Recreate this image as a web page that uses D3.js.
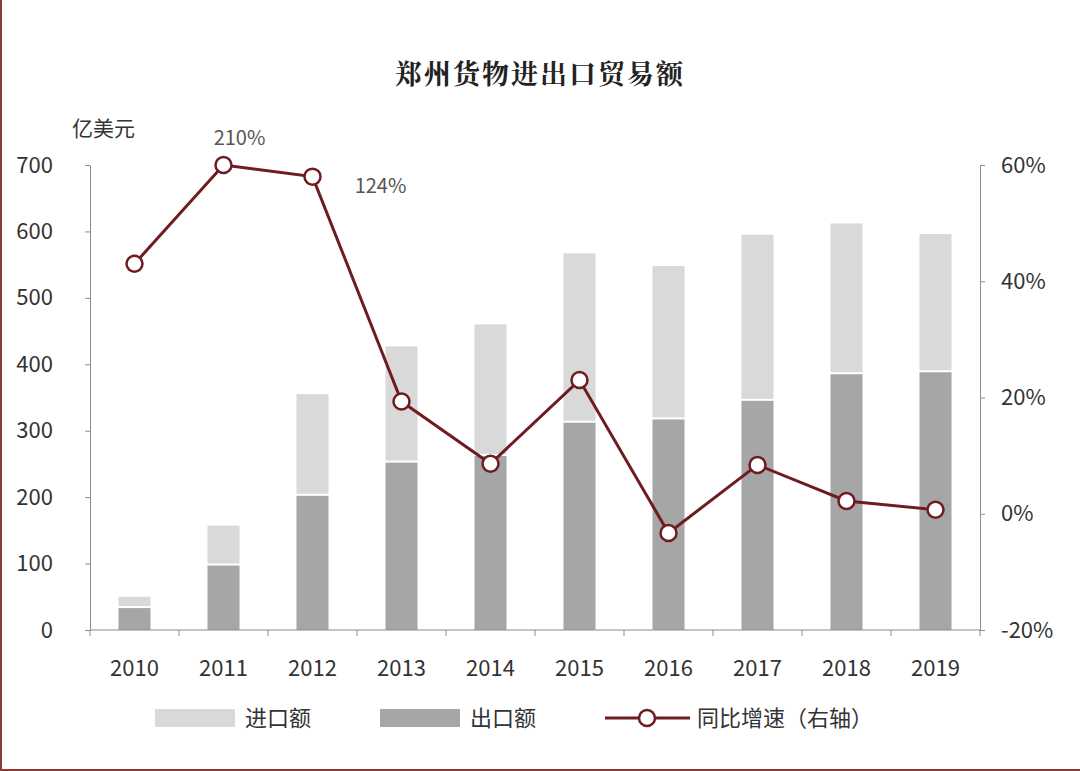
<!DOCTYPE html>
<html><head><meta charset="utf-8">
<script src="https://cdn.jsdelivr.net/npm/d3@7/dist/d3.min.js"></script>
<style>body{margin:0;background:#fff}svg{display:block}</style>
</head><body><div id="chart"></div>
<script>
const years = ["2010","2011","2012","2013","2014","2015","2016","2017","2018","2019"];
const exports = [33, 97, 202, 252, 262, 312, 317, 345, 385, 388];
const imports = [17, 60, 153, 175, 198, 255, 231, 250, 227, 208];
const growth = [43, 210, 124, 19.3, 8.6, 23, -3.3, 8.4, 2.2, 0.7];
// where the chart draws the points (values above 60% are squeezed to the axis top)
const growthDrawn = [43, 60, 58, 19.3, 8.6, 23, -3.3, 8.4, 2.2, 0.7];
const leftTicks = [0, 100, 200, 300, 400, 500, 600, 700];
const rightTicks = [-20, 0, 20, 40, 60];

const W = 1080, H = 771;
const m = {top: 165, right: 100, bottom: 141, left: 90};
const font = "'Noto Sans CJK SC', 'Noto Sans', sans-serif";
const lineColor = "#6e1c1f";

const svg = d3.select("#chart").append("svg").attr("width", W).attr("height", H)
  .style("font-family", font);

svg.append("path").attr("d", `M1,0V${H - 1}H${W}`)
  .attr("fill", "none").attr("stroke", "#8a3a3a").attr("stroke-width", 2);

const x = d3.scaleBand().domain(years).range([m.left, W - m.right]).paddingInner(0.64).paddingOuter(0.32);
const y = d3.scaleLinear().domain([0, 700]).range([H - m.bottom, m.top]);
const y2 = d3.scaleLinear().domain([-20, 60]).range([H - m.bottom, m.top]).clamp(true);

// bars
const g = svg.append("g");
years.forEach((yr, i) => {
  g.append("rect").attr("x", x(yr)).attr("width", x.bandwidth())
    .attr("y", y(exports[i])).attr("height", y(0) - y(exports[i])).attr("fill", "#a6a6a6");
  g.append("rect").attr("x", x(yr)).attr("width", x.bandwidth())
    .attr("y", y(exports[i] + imports[i])).attr("height", y(exports[i]) - y(exports[i] + imports[i]) - 2)
    .attr("fill", "#d9d9d9");
});

// axes
const styleAxis = a => {
  a.selectAll("path,line").attr("stroke", "#8c8c8c");
  a.selectAll("text").attr("fill", "#333").style("font-size", "22px").style("font-family", font);
};
svg.append("g").attr("transform", `translate(${m.left},0)`)
  .call(d3.axisLeft(y).tickValues(leftTicks).tickSize(5).tickSizeOuter(0).tickPadding(32))
  .call(styleAxis);
svg.append("g").attr("transform", `translate(${W - m.right},0)`)
  .call(d3.axisRight(y2).tickValues(rightTicks).tickSize(5).tickSizeOuter(0).tickFormat(d => d + "%").tickPadding(16))
  .call(styleAxis);
const xb = svg.append("g").attr("transform", `translate(0,${H - m.bottom})`);
xb.append("line").attr("x1", m.left).attr("x2", W - m.right).attr("stroke", "#8c8c8c");
d3.range(11).forEach(k => {
  const xx = m.left + k * (W - m.left - m.right) / 10;
  xb.append("line").attr("x1", xx).attr("x2", xx).attr("y2", 6).attr("stroke", "#8c8c8c");
});
years.forEach(yr => xb.append("text").attr("x", x(yr) + x.bandwidth() / 2).attr("y", 46)
  .attr("text-anchor", "middle").attr("fill", "#333").style("font-size", "22px").text(yr));

// line
const cx = yr => x(yr) + x.bandwidth() / 2;
svg.append("path").datum(growthDrawn).attr("fill", "none").attr("stroke", lineColor).attr("stroke-width", 3)
  .attr("d", d3.line().x((d, i) => cx(years[i])).y(d => y2(d)));
svg.selectAll("circle.pt").data(growthDrawn).join("circle").attr("class", "pt")
  .attr("cx", (d, i) => cx(years[i])).attr("cy", d => y2(d)).attr("r", 8)
  .attr("fill", "#fff").attr("stroke", lineColor).attr("stroke-width", 2.5);
svg.append("text").attr("x", cx("2011") + 16).attr("y", 145).attr("text-anchor", "middle")
  .attr("fill", "#555").style("font-size", "20px").text(growth[1] + "%");
svg.append("text").attr("x", cx("2012") + 68).attr("y", 193).attr("text-anchor", "middle")
  .attr("fill", "#555").style("font-size", "20px").text(growth[2] + "%");

// titles
svg.append("text").attr("x", 540).attr("y", 84).attr("text-anchor", "middle")
  .style("font-size", "27px").style("font-weight", "bold").attr("fill", "#222")
  .style("font-family", "'Noto Serif CJK SC','Noto Sans CJK SC',serif").style("letter-spacing", "2px")
  .text("郑州货物进出口贸易额");
svg.append("text").attr("x", 72).attr("y", 136).style("font-size", "21px").attr("fill", "#333").text("亿美元");

// legend
const ly = 718;
const leg = svg.append("g");
leg.append("rect").attr("x", 155).attr("y", ly - 9).attr("width", 80).attr("height", 18).attr("fill", "#d9d9d9");
leg.append("text").attr("x", 245).attr("y", ly + 8).style("font-size", "22px").attr("fill", "#333").text("进口额");
leg.append("rect").attr("x", 380).attr("y", ly - 9).attr("width", 80).attr("height", 18).attr("fill", "#a6a6a6");
leg.append("text").attr("x", 470).attr("y", ly + 8).style("font-size", "22px").attr("fill", "#333").text("出口额");
leg.append("line").attr("x1", 605).attr("x2", 690).attr("y1", ly).attr("y2", ly).attr("stroke", lineColor).attr("stroke-width", 3);
leg.append("circle").attr("cx", 647).attr("cy", ly).attr("r", 8).attr("fill", "#fff").attr("stroke", lineColor).attr("stroke-width", 2.5);
leg.append("text").attr("x", 697).attr("y", ly + 8).style("font-size", "22px").attr("fill", "#333").text("同比增速（右轴）");
</script></body></html>
